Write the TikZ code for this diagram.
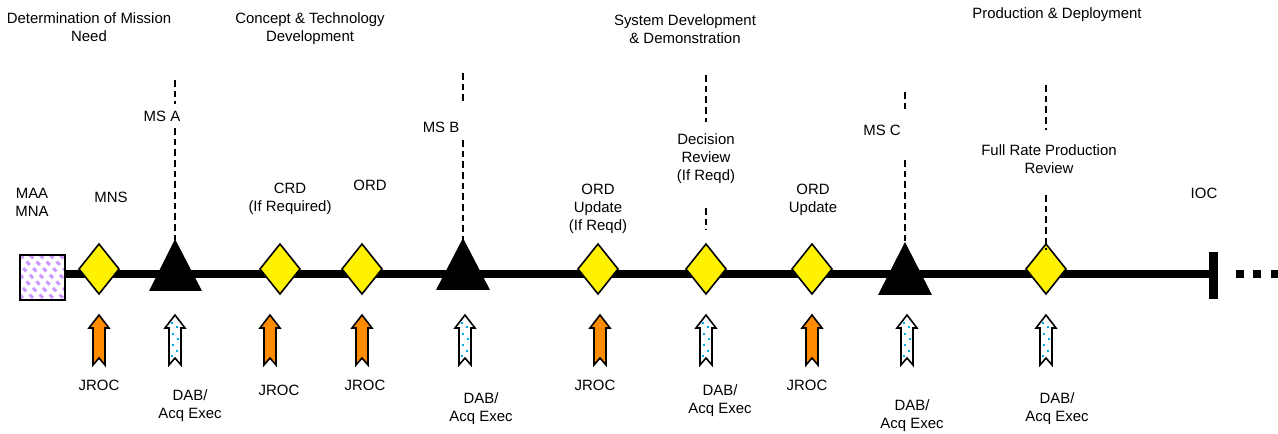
\documentclass[tikz,border=0pt]{standalone}
\usepackage{fontspec}
\setmainfont{Liberation Sans}
\begin{document}
\begin{tikzpicture}[x=0.75pt,y=-0.75pt,
  lbl/.style={font=\fontsize{11.2}{13.5}\selectfont, align=center, inner sep=0pt},
  diam/.style={draw=black, fill=yellow, line width=1.2pt, line join=miter},
  tri/.style={fill=black},
  dashln/.style={draw=black, line width=0.9pt, dash pattern=on 5pt off 3pt},
  pics/jrocarrow/.style={code={
    \draw[line width=1.2pt, fill=orange!90!yellow, line join=miter]
      (0,0) -- (10,13) -- (6,13) -- (6,50) -- (0,43) -- (-6,50) -- (-6,13) -- (-10,13) -- cycle;}},
  pics/dabarrow/.style={code={
    \draw[line width=1.2pt, fill=white, line join=miter]
      (0,0) -- (10,13) -- (6,13) -- (6,50) -- (0,43) -- (-6,50) -- (-6,13) -- (-10,13) -- cycle;
    \foreach \dx/\dy in {-3/8, 2/12, -2/19, 3/24, -2/30, 2/36, -3/41}
      \fill[cyan] (\dx-1.2,\dy-1.2) rectangle (\dx+1.2,\dy+1.2);}}
]
\useasboundingbox (0,0) rectangle (1278,434);
% main line
\fill (65,270) rectangle (1212,278);
\fill (1209,252) rectangle (1218,299);
\foreach \x in {1236,1253,1271}
  \fill (\x,270) rectangle (\x+8,278);
% start square
\begin{scope}
  \clip (20,255) rectangle (65,300);
  \foreach \k in {-50,-40,...,50}
    \draw[draw={rgb,255:red,204;green,153;blue,255}, line width=2.2pt, dash pattern=on 3.5pt off 3.5pt] (20+\k,255) -- (65+\k,300);
\end{scope}
\draw[line width=1.2pt] (20,255) rectangle (65,300);
% diamonds
\foreach \x/\n in {99/d1,280/d2,362/d3,598/d4,706/d5,812/d6,1046/d7}
  \draw[diam] (\x,244) -- (\x+20,269) -- (\x,294) -- (\x-20,269) -- cycle;
% triangles
\fill[tri] (175,239) -- (202,291) -- (149,291) -- cycle;
\fill[tri] (463,238) -- (490,290) -- (436,290) -- cycle;
\fill[tri] (905,242) -- (932,295) -- (878,295) -- cycle;
% dashed lines
\draw[dashln] (175,80) -- (175,104);
\draw[dashln] (175,128) -- (175,240);
\draw[dashln] (463,73) -- (463,101);
\draw[dashln] (463,140) -- (463,240);
\draw[dashln] (706,75) -- (706,122);
\draw[dashln] (706,208) -- (706,230);
\draw[dashln] (905,92) -- (905,111);
\draw[dashln] (905,160) -- (905,243);
\draw[dashln] (1046,85) -- (1046,130);
\draw[dashln] (1046,195) -- (1046,250);
% arrows
\foreach \x in {99,270,362,600,812}
  \pic at (\x,315) {jrocarrow};
\foreach \x in {175,465,706,907,1046}
  \pic at (\x,315) {dabarrow};
% phase labels
\node[lbl] at (89,27) {Determination of Mission\\Need};
\node[lbl] at (310,29) {Concept \& Technology\\Development};
\node[lbl] at (685,29) {System Development\\\& Demonstration};
\node[lbl] at (1057,15) {Production \& Deployment};
% upper labels
\node[lbl] at (32,202) {MAA\\MNA};
\node[lbl] at (111,197) {MNS};
\node[lbl] at (162,116) {MS A};
\node[lbl] at (290,199) {CRD\\(If Required)};
\node[lbl] at (370,185) {ORD};
\node[lbl] at (441,127) {MS B};
\node[lbl] at (598,209) {ORD\\Update\\(If Reqd)};
\node[lbl] at (706,159) {Decision\\Review\\(If Reqd)};
\node[lbl] at (813,200) {ORD\\Update};
\node[lbl] at (882,130) {MS C};
\node[lbl] at (1049,159) {Full Rate Production\\Review};
\node[lbl] at (1204,193) {IOC};
% lower labels
\node[lbl] at (99,385) {JROC};
\node[lbl] at (190,406) {DAB/\\Acq Exec};
\node[lbl] at (279,390) {JROC};
\node[lbl] at (365,385) {JROC};
\node[lbl] at (481,409) {DAB/\\Acq Exec};
\node[lbl] at (595,385) {JROC};
\node[lbl] at (720,401) {DAB/\\Acq Exec};
\node[lbl] at (807,385) {JROC};
\node[lbl] at (912,416) {DAB/\\Acq Exec};
\node[lbl] at (1057,409) {DAB/\\Acq Exec};
\end{tikzpicture}
\end{document}
